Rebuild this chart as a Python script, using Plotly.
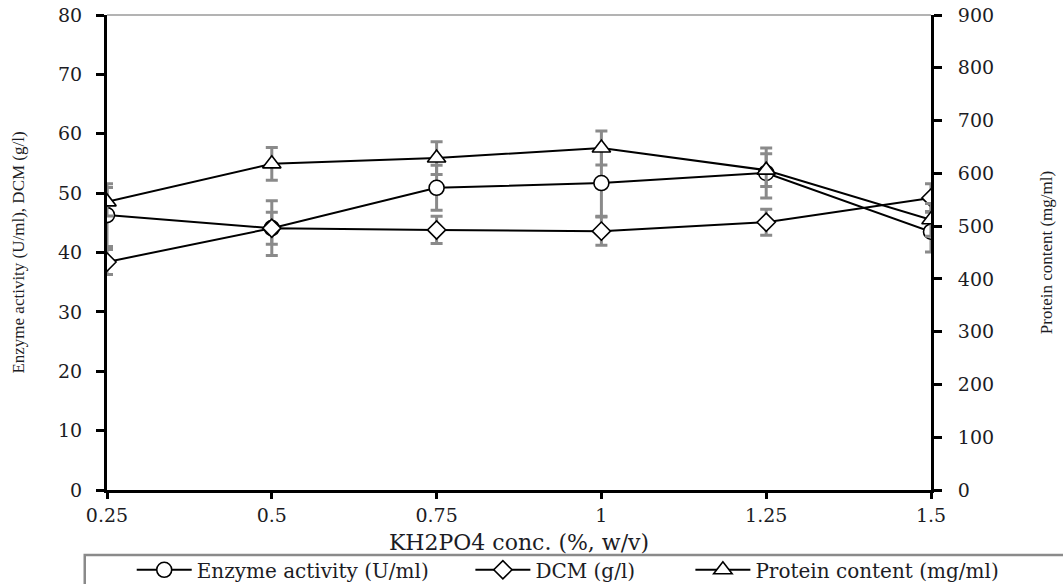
import plotly.graph_objects as go

# KH2PO4 concentration (%, w/v)
conc = [0.25, 0.5, 0.75, 1.0, 1.25, 1.5]
conc_labels = ["0.25", "0.5", "0.75", "1", "1.25", "1.5"]

# Enzyme activity (U/ml) and its standard deviation
enzyme = [46.3, 44.1, 50.9, 51.7, 53.4, 43.5]
enzyme_err = [5.3, 4.6, 3.8, 5.6, 4.2, 3.4]

# Dry cell mass (g/l) and its standard deviation
dcm = [38.4, 44.1, 43.8, 43.6, 45.1, 49.2]
dcm_err = [2.1, 2.7, 2.3, 2.4, 2.2, 2.4]

# Protein content (mg/ml) and its standard deviation
protein = [546, 618, 629, 648, 606, 512]
protein_err = [27, 31, 31, 32, 31, 31]

left_ticks = list(range(0, 81, 10))
right_ticks = list(range(0, 901, 100))

SERIF = "DejaVu Serif"
TITLE_SERIF = "Liberation Serif"
ERR_COLOR = "#8a8a8a"
TXT = "#1c1c24"


def err(vals):
    return dict(type="data", array=vals, visible=True, color=ERR_COLOR,
                thickness=3, width=6)


def legend_box(x):
    # one single-entry legend per series, laid out in a row under the x axis
    return dict(
        orientation="h", x=x, xanchor="left", y=-0.168, yanchor="middle",
        font=dict(family=SERIF, size=20, color=TXT),
        bgcolor="rgba(0,0,0,0)", borderwidth=0, itemwidth=55,
        itemclick=False, itemdoubleclick=False,
    )


fig = go.Figure()

fig.add_trace(go.Scatter(
    x=conc, y=enzyme, name="Enzyme activity (U/ml)", legend="legend",
    mode="lines+markers", error_y=err(enzyme_err),
    line=dict(color="black", width=2),
    marker=dict(symbol="circle", size=15, color="white",
                line=dict(color="black", width=1.6)),
))
fig.add_trace(go.Scatter(
    x=conc, y=dcm, name="DCM (g/l)", legend="legend2",
    mode="lines+markers", error_y=err(dcm_err),
    line=dict(color="black", width=2),
    marker=dict(symbol="diamond", size=14, color="white",
                line=dict(color="black", width=1.6)),
))
fig.add_trace(go.Scatter(
    x=conc, y=protein, name="Protein content (mg/ml)", legend="legend3",
    mode="lines+markers", yaxis="y2", error_y=err(protein_err),
    line=dict(color="black", width=2),
    marker=dict(symbol="triangle-up", size=16, color="white",
                line=dict(color="black", width=1.6)),
))

tick_font = dict(family=SERIF, size=19, color=TXT)

fig.update_layout(
    width=1063, height=584,
    margin=dict(l=107, r=132, t=15, b=94, autoexpand=False),
    paper_bgcolor="white", plot_bgcolor="white",
    showlegend=True,
    legend=legend_box(0.03),
    legend2=legend_box(0.441),
    legend3=legend_box(0.708),
    xaxis=dict(
        range=[0.25, 1.5], tickmode="array", tickvals=conc, ticktext=conc_labels,
        showgrid=False, zeroline=False, automargin=False,
        showline=True, linecolor="black", linewidth=3,
        ticks="outside", ticklen=6, tickwidth=3, tickcolor="black",
        tickfont=tick_font,
        title=dict(text="KH2PO4 conc. (%, w/v)", standoff=10,
                   font=dict(family=SERIF, size=22, color=TXT)),
    ),
    xaxis2=dict(
        range=[0.25, 1.5], overlaying="x", side="bottom", anchor="y",
        tickmode="array", tickvals=conc, showticklabels=False,
        showgrid=False, zeroline=False, showline=False,
        ticks="inside", ticklen=6, tickwidth=3, tickcolor="black",
    ),
    yaxis=dict(
        range=[0, 80], tickmode="array", tickvals=left_ticks,
        showgrid=False, zeroline=False, automargin=False,
        showline=True, linecolor="black", linewidth=3,
        ticks="outside", ticklen=8, tickwidth=3, tickcolor="black",
        ticklabelstandoff=10,
        tickfont=tick_font,
        title=dict(text="Enzyme activity (U/ml), DCM (g/l)", standoff=30,
                   font=dict(family=TITLE_SERIF, size=17, color=TXT)),
    ),
    yaxis3=dict(
        range=[0, 80], overlaying="y", side="left", anchor="x",
        tickmode="array", tickvals=left_ticks, showticklabels=False,
        showgrid=False, zeroline=False, showline=False,
        ticks="inside", ticklen=8, tickwidth=3, tickcolor="black",
    ),
    yaxis2=dict(
        range=[0, 900], overlaying="y", side="right", anchor="x",
        tickmode="array", tickvals=right_ticks,
        showgrid=False, zeroline=False, automargin=False,
        showline=True, linecolor="black", linewidth=3,
        ticks="outside", ticklen=8, tickwidth=3, tickcolor="black",
        ticklabelstandoff=12,
        tickfont=tick_font,
        title=dict(text="Protein content (mg/ml)", standoff=48,
                   font=dict(family=TITLE_SERIF, size=17, color=TXT)),
    ),
    yaxis4=dict(
        range=[0, 900], overlaying="y", side="right", anchor="x",
        tickmode="array", tickvals=right_ticks, showticklabels=False,
        showgrid=False, zeroline=False, showline=False,
        ticks="inside", ticklen=8, tickwidth=3, tickcolor="black",
    ),
    shapes=[
        # thin grey frame along the top of the plotting area
        dict(type="line", xref="paper", yref="paper", x0=0, x1=1, y0=1, y1=1,
             line=dict(color="#9a9a9a", width=1.5), layer="below"),
        # legend box running off the lower right of the figure
        dict(type="rect", xref="paper", yref="paper",
             x0=-0.027, x1=1.2, y0=-0.137, y1=-0.25,
             line=dict(color="#8a8a8a", width=2.5), fillcolor="rgba(0,0,0,0)"),
    ],
)

fig.write_html("out.html")
